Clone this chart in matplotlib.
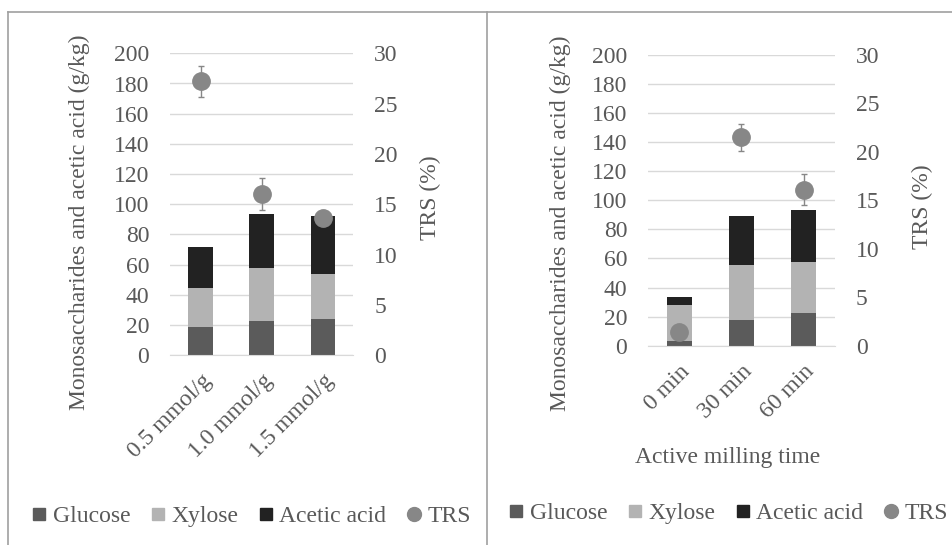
import numpy as np
import matplotlib
matplotlib.use('Agg')
import matplotlib.pyplot as plt
from matplotlib.lines import Line2D

plt.rcParams['font.family'] = ['Liberation Serif', 'DejaVu Serif']

# left panel: acid loading
cats_a = ['0.5 mmol/g', '1.0 mmol/g', '1.5 mmol/g']
glucose_a = [18.9, 22.5, 23.9]
xylose_a = [25.9, 35.4, 30.1]
acetic_a = [27.2, 35.7, 38.4]
trs_a = [27.2, 16.0, 13.6]
trs_err_a = [1.5, 1.6, 0.3]

# right panel: active milling time
cats_b = ['0 min', '30 min', '60 min']
glucose_b = [2.9, 17.9, 22.6]
xylose_b = [25.0, 37.4, 35.1]
acetic_b = [5.9, 34.1, 36.0]
trs_b = [1.4, 21.5, 16.1]
trs_err_b = [0.2, 1.4, 1.6]

W, H = 953, 545
TXT = '#595959'
C_GLU = '#5b5b5b'
C_XYL = '#b3b3b3'
C_ACE = '#222222'
C_TRS = '#878787'
FS = 17


def px(x0, y0, x1, y1):
    # pixel box -> figure fraction
    return [x0 / W, 1 - y1 / H, (x1 - x0) / W, (y1 - y0) / H]


def panel(fig, box, cats, glu, xyl, ace, trs, err, ylab_xy, trs_xy, xlabel=None, xlab_xy=None):
    ax = fig.add_axes(px(*box))
    x = np.arange(len(cats))
    ax.bar(x, glu, 0.4, color=C_GLU, zorder=2)
    ax.bar(x, xyl, 0.4, bottom=glu, color=C_XYL, zorder=2)
    ax.bar(x, ace, 0.4, bottom=np.add(glu, xyl), color=C_ACE, zorder=2)
    ax.set_ylim(0, 200)
    ax.set_yticks(np.arange(0, 201, 20))
    ax.set_xlim(-0.5, len(cats) - 0.5)
    ax.set_xticks(x)
    ax.set_xticklabels(cats, rotation=45, ha='right', rotation_mode='anchor')
    ax.yaxis.grid(True, color='#d9d9d9', lw=1)
    ax.set_axisbelow(True)
    for s in ax.spines.values():
        s.set_visible(False)
    ax.spines['bottom'].set_visible(True)
    ax.spines['bottom'].set_color('#d9d9d9')
    ax.tick_params(length=0, labelsize=FS, labelcolor=TXT)
    ax.tick_params(axis='y', pad=15)
    ax.tick_params(axis='x', pad=11)
    ax.set_ylabel('Monosaccharides and acetic acid (g/kg)', fontsize=FS, color=TXT)
    ax.yaxis.set_label_coords(*ylab_xy)
    if xlabel:
        ax.set_xlabel(xlabel, fontsize=FS, color=TXT)
        ax.xaxis.set_label_coords(*xlab_xy)

    ax2 = ax.twinx()
    ax2.errorbar(x, trs, yerr=err, fmt='o', color=C_TRS, ms=12.5, ecolor=C_TRS,
                 elinewidth=1, capsize=2.5, zorder=3)
    ax2.set_ylim(0, 30)
    ax2.set_yticks(np.arange(0, 31, 5))
    for s in ax2.spines.values():
        s.set_visible(False)
    ax2.tick_params(length=0, labelsize=FS, labelcolor=TXT, pad=15)
    ax2.set_ylabel('TRS (%)', fontsize=FS, color=TXT)
    ax2.yaxis.set_label_coords(*trs_xy)
    return ax


fig = plt.figure(figsize=(W / 100, H / 100), dpi=100)

panel(fig, (170, 53.3, 353.3, 355.3), cats_a, glucose_a, xylose_a, acetic_a, trs_a, trs_err_a,
      ylab_xy=(-0.436, 0.439), trs_xy=(1.364, 0.523))
panel(fig, (648, 55, 835, 345.7), cats_b, glucose_b, xylose_b, acetic_b, trs_b, trs_err_b,
      ylab_xy=(-0.412, 0.42), trs_xy=(1.41, 0.478),
      xlabel='Active milling time', xlab_xy=(0.426, -0.348))

handles = [Line2D([], [], ls='', marker='s', ms=8, color=C_GLU),
           Line2D([], [], ls='', marker='s', ms=8, color=C_XYL),
           Line2D([], [], ls='', marker='s', ms=8, color=C_ACE),
           Line2D([], [], ls='', marker='o', ms=10, color=C_TRS)]
names = ['Glucose', 'Xylose', 'Acetic acid', 'TRS']
for cx, cy in [(251.5, 516), (728.5, 513)]:
    fig.legend(handles, names, loc='center', bbox_to_anchor=(cx / W, 1 - cy / H),
               ncol=4, frameon=False, fontsize=FS, labelcolor=TXT,
               handletextpad=0.28, columnspacing=0.85, handlelength=0.6)

# panel frames
border = '#a0a0a0'
fig.add_artist(Line2D([8 / W, 1], [1 - 11.7 / H] * 2, color=border, lw=1.2))
fig.add_artist(Line2D([8 / W] * 2, [0, 1 - 11.7 / H], color=border, lw=1.2))
fig.add_artist(Line2D([487 / W] * 2, [0, 1 - 11.7 / H], color=border, lw=1.2))

fig.savefig('out.png', dpi=100)
